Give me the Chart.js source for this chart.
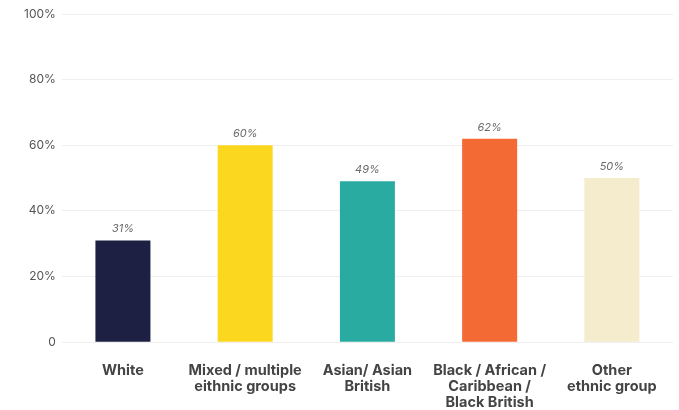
<!DOCTYPE html>
<html>
<head>
<meta charset="utf-8">
<script src="https://cdn.jsdelivr.net/npm/chart.js@4"></script>
<style>
  html, body { margin: 0; padding: 0; background: #fff; }
  #wrap { width: 679px; height: 410px; position: relative; }
</style>
</head>
<body>
<div id="wrap"><canvas id="ethnicChart"></canvas></div>
<script>
const categories = [
  'White',
  ['Mixed / multiple', 'eithnic groups'],
  ['Asian/ Asian', 'British'],
  ['Black / African /', 'Caribbean /', 'Black British'],
  ['Other', 'ethnic group'],
]
const shares = [31, 60, 49, 62, 50]
const barColors = ['#1d2042', '#fbd81f', '#2aaba1', '#f46a35', '#f5ebcd']
const yTicks = [0, 20, 40, 60, 80, 100]

// writes the percentage above each bar
const valueLabels = {
  id: 'valueLabels',
  afterDatasetsDraw(chart) {
    const ctx = chart.ctx
    const meta = chart.getDatasetMeta(0)
    ctx.save()
    ctx.font = 'italic 11px Inter, sans-serif'
    ctx.fillStyle = '#6b6b6b'
    ctx.textAlign = 'center'
    ctx.textBaseline = 'bottom'
    meta.data.forEach((bar, i) => {
      ctx.fillText(shares[i] + '%', bar.x, bar.y - 6)
    })
    ctx.restore()
  },
}

const ctx = document.getElementById('ethnicChart').getContext('2d')
const myChart = new Chart(ctx, {
  type: 'bar',
  data: {
    labels: categories,
    datasets: [
      {
        data: shares,
        backgroundColor: barColors,
        borderWidth: 0,
        barPercentage: 0.45,
        categoryPercentage: 1,
      },
    ],
  },
  options: {
    responsive: true,
    maintainAspectRatio: false,
    animation: false,
    layout: { padding: { top: 14, right: 6, left: 18, bottom: -14 } },
    plugins: {
      legend: { display: false },
      tooltip: { enabled: false },
    },
    scales: {
      x: {
        grid: { display: false },
        border: { display: false },
        ticks: {
          color: '#444',
          font: { family: 'Inter, sans-serif', size: 14.5, weight: 'bold', lineHeight: 1.1 },
          padding: 13,
          maxRotation: 0,
          autoSkip: false,
        },
      },
      y: {
        min: 0,
        max: 100,
        afterBuildTicks: (axis) => {
          axis.ticks = yTicks.map((v) => ({ value: v }))
        },
        grid: { color: '#efefef', drawTicks: false },
        border: { display: false },
        ticks: {
          color: '#555',
          font: { family: 'Inter, sans-serif', size: 12 },
          padding: 6,
          callback: (v) => (v === 0 ? '0' : v + '%'),
        },
      },
    },
  },
  plugins: [valueLabels],
})
</script>
</body>
</html>
